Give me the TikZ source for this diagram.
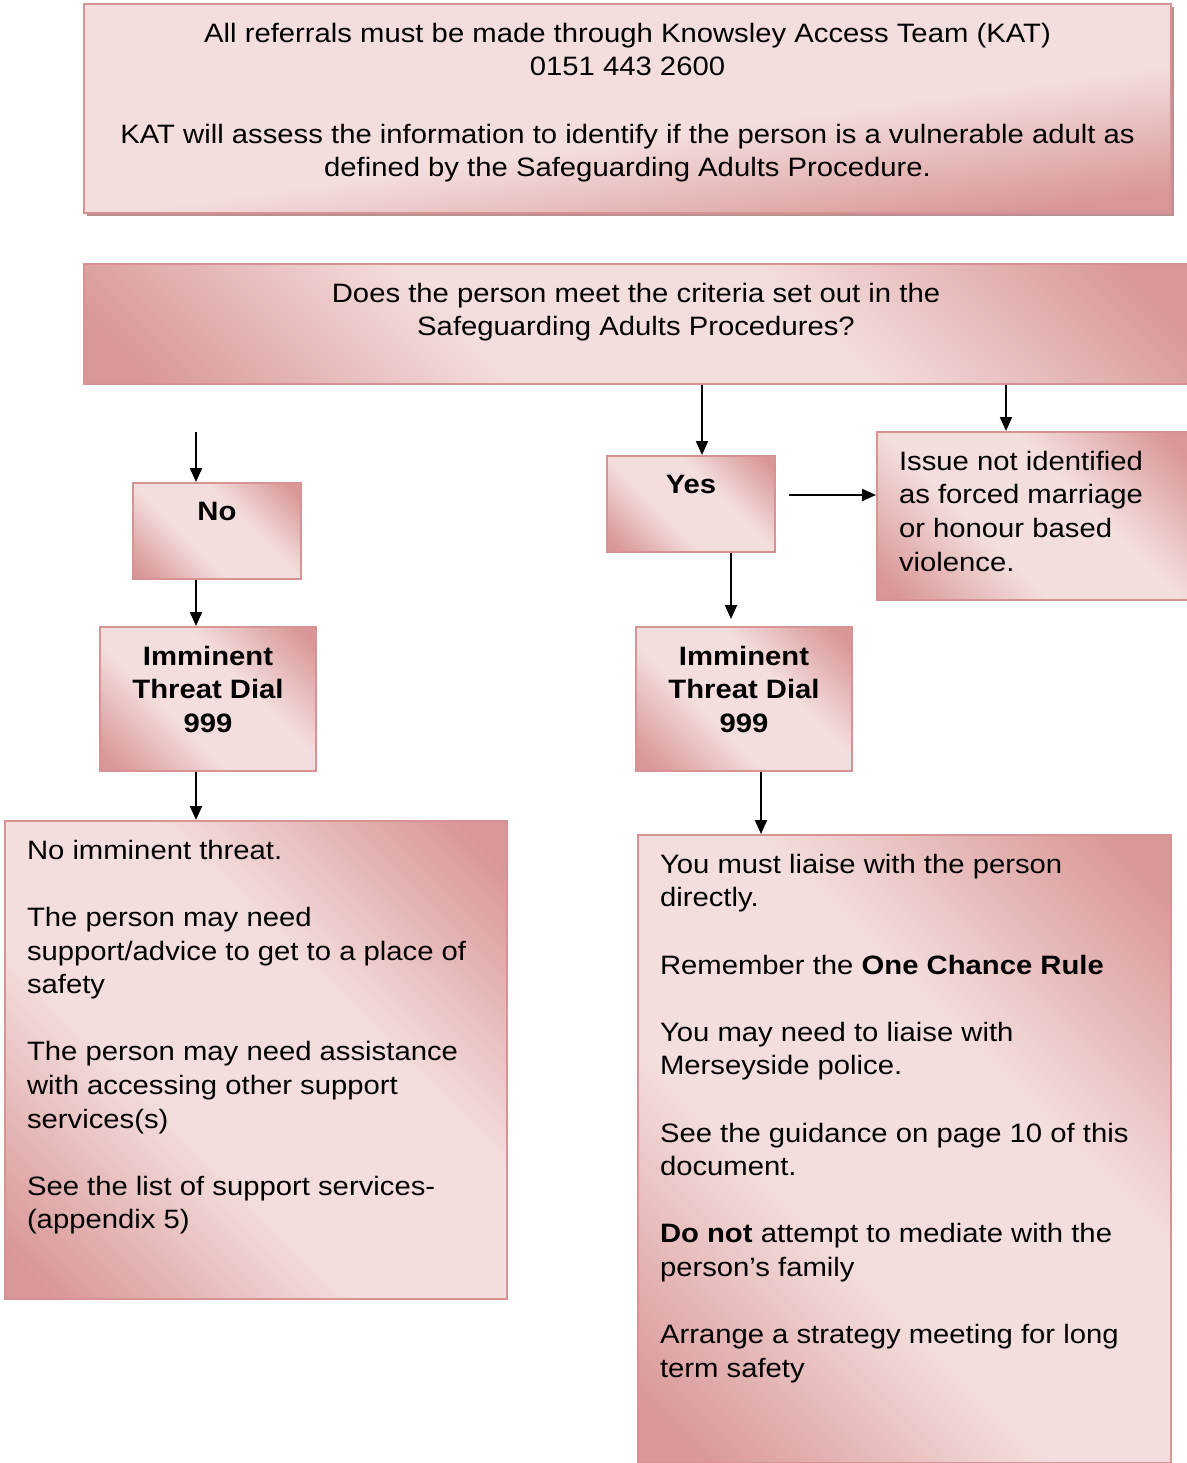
\documentclass[tikz,border=0pt]{standalone}
\usepackage{fontspec}
\setmainfont{Liberation Sans}[FakeStretch=1.1]
\usetikzlibrary{arrows.meta,calc}
\usepackage{xcolor}

\definecolor{pinkdk}{RGB}{217,150,150}
\definecolor{pinklt}{RGB}{243,222,221}
\definecolor{pinkln}{RGB}{217,146,148}
\definecolor{shadowgr}{RGB}{184,144,144}

\pgfdeclareverticalshading{pinkband}{100bp}{color(0bp)=(pinkdk); color(18bp)=(pinkdk);
    color(40bp)=(pinklt); color(60bp)=(pinklt); color(82bp)=(pinkdk); color(100bp)=(pinkdk)}
\pgfdeclareverticalshading{pinkfade}{100bp}{color(0bp)=(pinkdk); color(25bp)=(pinkdk);
    color(45bp)=(pinklt); color(75bp)=(pinklt); color(100bp)=(pinklt)}

\newcommand{\boxtext}[3]{\parbox[t][#2][t]{#1}{\vspace*{9.5pt}#3}}
\newcommand{\gap}{\\[16.8pt]}

\tikzset{
    box/.style={draw=pinkln, line width=1pt, anchor=north west,
        inner xsep=11pt, inner ysep=0pt,
        shading=pinkband, shading angle=-45},
    arr/.style={-{Triangle[length=7pt,width=6pt]}, line width=1pt},
}

\begin{document}
\begin{tikzpicture}[x=0.5pt, y=-0.5pt, font=\fontsize{13.3}{16.8}\selectfont]
    \useasboundingbox (0,0) rectangle (1187,1463);
    % referral box with its shadow
    \fill[shadowgr] (87,7) rectangle (1174,216);
    \node[box, shading=pinkfade, shading angle=8] (kat) at (83,3)
        {\boxtext{521.5pt}{104.5pt}{\centering
        All referrals must be made through Knowsley Access Team (KAT)\\
        0151 443 2600\gap
        KAT will assess the information to identify if the person is a vulnerable adult as\\
        defined by the Safeguarding Adults Procedure.}};
    \node[box] (crit) at (83,263)
        {\boxtext{530pt}{60pt}{\centering
        Does the person meet the criteria set out in the\\
        Safeguarding Adults Procedures?}};
    % left branch
    \node[box] (no) at (132,482)
        {\boxtext{62pt}{48pt}{\centering\bfseries No}};
    \node[box] (threatL) at (99,626)
        {\boxtext{86pt}{72pt}{\centering\bfseries Imminent\\ Threat Dial\\ 999}};
    \node[box] (adviceL) at (4,820)
        {\boxtext{229pt}{239pt}{\raggedright
        No imminent threat.\gap
        The person may need\\
        support/advice to get to a place of\\
        safety\gap
        The person may need assistance\\
        with accessing other support\\
        services(s)\gap
        See the list of support services-\\
        (appendix 5)}};
    % right branch
    \node[box] (yes) at (606,455)
        {\boxtext{62pt}{48pt}{\centering\bfseries Yes}};
    \node[box] (issue) at (876,431)
        {\boxtext{133.5pt}{84pt}{\raggedright
        Issue not identified\\
        as forced marriage\\
        or honour based\\
        violence.}};
    \node[box] (threatR) at (635,626)
        {\boxtext{86pt}{72pt}{\centering\bfseries Imminent\\ Threat Dial\\ 999}};
    \node[box] (adviceR) at (637,834)
        {\boxtext{244.5pt}{314pt}{\raggedright
        You must liaise with the person\\
        directly.\gap
        Remember the \textbf{One Chance Rule}\gap
        You may need to liaise with\\
        Merseyside police.\gap
        See the guidance on page 10 of this\\
        document.\gap
        \textbf{Do not} attempt to mediate with the\\
        person’s family\gap
        Arrange a strategy meeting for long\\
        term safety}};
    % connectors
    \coordinate (n0) at (196,432);
    \draw[arr] (n0) -- (n0 |- no.north);
    \draw[arr] (no.south -| n0) -- (threatL.north -| n0);
    \draw[arr] (threatL.south -| n0) -- (adviceL.north -| n0);
    \coordinate (y0) at ($(yes.north)+(11,0)$);
    \draw[arr] (crit.south -| y0) -- (y0);
    \coordinate (i0) at ($(issue.north)+(-26.5,0)$);
    \draw[arr] (crit.south -| i0) -- (i0);
    \coordinate (s0) at (789,495);
    \draw[arr] (s0) -- (issue.west |- s0);
    \coordinate (y1) at ($(yes.south)+(40,0)$);
    \draw[arr] (y1) -- ($(threatR.north -| y1)+(0,-7)$);
    \coordinate (t1) at ($(threatR.south)+(17,0)$);
    \draw[arr] (t1) -- (adviceR.north -| t1);
\end{tikzpicture}
\end{document}
